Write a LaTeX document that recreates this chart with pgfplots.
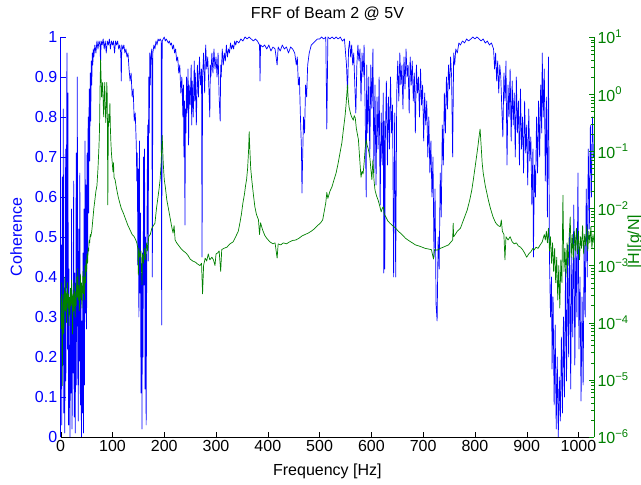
\documentclass[border=0pt]{standalone}
\usepackage{fontspec}
\setmainfont{Liberation Sans}
\usepackage{pgfplots}
\pgfplotsset{compat=1.18}
\definecolor{mblue}{rgb}{0,0,1}
\definecolor{mgreen}{rgb}{0,0.5,0}
\pgfplotsset{
  common/.style={
    scale only axis, width=533.3pt, height=400pt, at={(0,0)}, anchor=south west,
    xmin=0, xmax=1030,
    tick label style={font=\fontsize{16}{19}\selectfont},
    label style={font=\fontsize{16}{19}\selectfont},
    title style={font=\fontsize{16}{19}\selectfont},
    /pgf/number format/assume math mode=true,
    /pgf/number format/1000 sep={},
    scaled ticks=false,
    tick align=inside,
    major tick length=5pt,
    minor tick length=3pt,
  }
}
\begin{document}
\begin{tikzpicture}
\useasboundingbox (-60.7pt,-48pt) rectangle (580.3pt,437pt);
\begin{axis}[common,
  axis y line*=left, axis x line*=bottom,
  ymin=0, ymax=1,
  ytick={0,0.1,0.2,0.3,0.4,0.5,0.6,0.7,0.8,0.9,1},
  yticklabels={0,0.1,0.2,0.3,0.4,0.5,0.6,0.7,0.8,0.9,1},
  xtick={0,100,200,300,400,500,600,700,800,900,1000},
  y axis line style={mblue,-},
  x axis line style={black,-},
  ytick style={mblue},
  xtick style={black},
  yticklabel style={mblue},
  ylabel={Coherence},
  ylabel style={mblue, at={(axis description cs:-0.0726,0.5)}, anchor=base},
  xlabel={Frequency [Hz]},
  xlabel style={at={(axis description cs:0.5,0)}, anchor=base, yshift=-38pt},
  title={FRF of Beam 2 @ 5V},
  title style={at={(axis description cs:0.5,1)}, anchor=base, yshift=12pt},
]
\addplot[mblue, line width=0.7pt, line join=round, mark=none] table[row sep=\\] {
x y\\
0 0.12\\ 1 0.48\\ 2 0.03\\ 3 0.65\\ 4 0.18\\ 5 0.82\\ 6 0.06\\ 7 0.33\\ 8 0.01\\ 9 0.72\\
10 0.14\\ 11 0.58\\ 12 0.96\\ 13 0.22\\ 14 0.86\\ 15 0.03\\ 16 0.42\\ 17 0.09\\ 18 0.00\\ 19 0.36\\
20 0.11\\ 21 0.57\\ 22 0.02\\ 23 0.31\\ 24 0.16\\ 25 0.64\\ 26 0.05\\ 27 0.41\\ 28 0.01\\ 29 0.27\\
30 0.71\\ 31 0.13\\ 32 0.90\\ 33 0.31\\ 34 0.04\\ 35 0.52\\ 36 0.19\\ 37 0.66\\ 38 0.08\\ 39 0.36\\
40 0.00\\ 41 0.29\\ 42 0.06\\ 43 0.46\\ 44 0.01\\ 45 0.57\\ 46 0.13\\ 47 0.74\\ 48 0.31\\ 49 0.63\\
50 0.27\\ 51 0.71\\ 52 0.44\\ 53 0.80\\ 54 0.56\\ 55 0.87\\ 56 0.69\\ 57 0.91\\ 58 0.79\\ 59 0.94\\
60 0.88\\ 61 0.96\\ 62 0.93\\ 63 0.97\\ 64 0.95\\ 66 0.98\\ 68 0.96\\ 70 0.99\\ 72 0.97\\ 74 0.99\\
76 0.98\\ 77 0.93\\ 78 0.99\\ 80 0.98\\ 82 0.995\\ 84 0.97\\ 86 0.99\\ 88 0.96\\ 90 0.99\\ 92 0.98\\
94 0.995\\ 96 0.97\\ 98 0.99\\ 100 0.98\\ 102 0.99\\ 104 0.96\\ 106 0.99\\ 108 0.98\\ 110 0.99\\ 112 0.97\\
114 0.98\\ 116 0.96\\ 117 0.89\\ 118 0.98\\ 120 0.97\\ 122 0.98\\ 124 0.96\\ 126 0.97\\ 128 0.95\\ 130 0.96\\
132 0.92\\ 134 0.89\\ 136 0.91\\ 138 0.85\\ 140 0.87\\ 142 0.79\\ 144 0.81\\ 146 0.73\\ 147 0.64\\ 148 0.71\\
149 0.43\\ 150 0.67\\ 151 0.30\\ 152 0.74\\ 153 0.36\\ 154 0.56\\ 155 0.11\\ 156 0.41\\ 157 0.02\\ 158 0.46\\
159 0.20\\ 160 0.70\\ 161 0.38\\ 162 0.72\\ 163 0.12\\ 164 0.50\\ 165 0.03\\ 166 0.36\\ 167 0.61\\ 168 0.78\\
169 0.44\\ 170 0.90\\ 171 0.76\\ 172 0.96\\ 173 0.88\\ 174 0.95\\ 176 0.97\\ 177 0.40\\ 178 0.96\\ 180 0.98\\
182 0.97\\ 184 0.99\\ 186 0.98\\ 188 0.995\\ 190 0.99\\ 192 0.995\\ 194 0.99\\ 195 0.28\\ 196 0.99\\ 198 0.995\\
200 1.0\\ 202 0.99\\ 204 0.995\\ 206 0.99\\ 208 0.985\\ 210 0.99\\ 212 0.98\\ 214 0.985\\ 216 0.97\\ 218 0.98\\
220 0.96\\ 222 0.97\\ 224 0.94\\ 226 0.95\\ 228 0.91\\ 230 0.93\\ 232 0.86\\ 234 0.90\\ 236 0.80\\ 237 0.88\\
238 0.70\\ 239 0.84\\ 240 0.53\\ 241 0.82\\ 242 0.76\\ 243 0.90\\ 244 0.81\\ 246 0.92\\ 247 0.73\\ 248 0.88\\
250 0.83\\ 252 0.93\\ 253 0.78\\ 254 0.89\\ 256 0.80\\ 258 0.94\\ 259 0.84\\ 260 0.91\\ 262 0.78\\ 264 0.93\\
266 0.85\\ 268 0.95\\ 270 0.88\\ 272 0.92\\ 273 0.45\\ 274 0.90\\ 276 0.96\\ 278 0.86\\ 280 0.98\\ 282 0.92\\
284 0.95\\ 286 0.88\\ 288 0.80\\ 289 0.93\\ 290 0.90\\ 292 0.96\\ 294 0.91\\ 296 0.97\\ 298 0.92\\ 300 0.95\\
302 0.90\\ 304 0.96\\ 306 0.85\\ 308 0.79\\ 309 0.93\\ 310 0.90\\ 312 0.97\\ 314 0.93\\ 316 0.96\\ 318 0.94\\
320 0.98\\ 322 0.95\\ 324 0.97\\ 326 0.96\\ 328 0.985\\ 330 0.97\\ 332 0.98\\ 334 0.97\\ 336 0.99\\ 338 0.98\\
340 0.99\\ 344 0.985\\ 348 0.995\\ 352 0.99\\ 356 1.0\\ 360 0.995\\ 364 1.0\\ 368 0.995\\ 372 0.99\\ 376 0.995\\
380 0.99\\ 384 0.98\\ 385 0.89\\ 386 0.98\\ 390 0.975\\ 394 0.98\\ 398 0.97\\ 402 0.98\\ 406 0.965\\ 410 0.975\\
414 0.97\\ 418 0.93\\ 420 0.975\\ 424 0.965\\ 428 0.98\\ 432 0.97\\ 436 0.975\\ 440 0.96\\ 444 0.975\\ 448 0.97\\
452 0.96\\ 455 0.93\\ 457 0.95\\ 459 0.88\\ 461 0.90\\ 463 0.80\\ 465 0.72\\ 466 0.61\\ 467 0.68\\ 469 0.80\\
471 0.76\\ 473 0.88\\ 475 0.85\\ 477 0.93\\ 480 0.96\\ 484 0.98\\ 488 0.985\\ 492 0.99\\ 496 0.995\\ 500 0.995\\
504 1.0\\ 508 0.995\\ 512 1.0\\ 514 0.77\\ 516 1.0\\ 520 0.995\\ 524 1.0\\ 528 0.995\\ 532 1.0\\ 536 0.995\\
540 1.0\\ 544 0.99\\ 548 0.995\\ 552 0.93\\ 554 0.86\\ 556 0.97\\ 558 0.99\\ 560 0.95\\ 562 0.98\\ 564 0.93\\
566 0.96\\ 568 0.88\\ 570 0.81\\ 572 0.93\\ 574 0.98\\ 576 0.94\\ 578 0.97\\ 580 0.84\\ 582 0.96\\ 584 0.90\\
586 0.98\\ 588 0.82\\ 590 0.60\\ 591 0.93\\ 593 0.76\\ 595 0.90\\ 597 0.70\\ 599 0.93\\ 601 0.82\\ 603 0.97\\
605 0.66\\ 607 0.88\\ 609 0.63\\ 611 0.85\\ 613 0.72\\ 615 0.90\\ 617 0.58\\ 619 0.81\\ 621 0.68\\ 623 0.86\\
624 0.41\\ 625 0.79\\ 626 0.42\\ 627 0.74\\ 629 0.89\\ 631 0.68\\ 633 0.85\\ 635 0.72\\ 637 0.90\\ 639 0.76\\
641 0.83\\ 643 0.40\\ 645 0.81\\ 647 0.40\\ 649 0.86\\ 651 0.94\\ 653 0.84\\ 655 0.96\\ 657 0.88\\ 659 0.93\\
661 0.82\\ 663 0.95\\ 665 0.87\\ 667 0.97\\ 669 0.90\\ 671 0.93\\ 673 0.81\\ 675 0.95\\ 677 0.88\\ 679 0.94\\
681 0.84\\ 683 0.91\\ 685 0.76\\ 687 0.93\\ 689 0.86\\ 691 0.90\\ 693 0.80\\ 695 0.92\\ 697 0.83\\ 699 0.88\\
701 0.74\\ 703 0.86\\ 705 0.78\\ 707 0.84\\ 709 0.70\\ 711 0.80\\ 713 0.66\\ 715 0.74\\ 717 0.60\\ 719 0.70\\
721 0.45\\ 723 0.62\\ 725 0.33\\ 727 0.29\\ 729 0.50\\ 731 0.42\\ 733 0.66\\ 735 0.55\\ 737 0.78\\ 739 0.68\\
741 0.86\\ 743 0.76\\ 745 0.90\\ 747 0.82\\ 749 0.93\\ 751 0.87\\ 753 0.95\\ 755 0.90\\ 757 0.70\\ 759 0.96\\
761 0.93\\ 763 0.97\\ 766 0.96\\ 769 0.985\\ 772 0.98\\ 776 0.99\\ 780 0.985\\ 784 0.995\\ 788 0.99\\ 792 0.995\\
796 1.0\\ 800 0.995\\ 804 1.0\\ 808 0.995\\ 812 0.99\\ 816 0.995\\ 820 0.985\\ 824 0.99\\ 828 0.98\\ 832 0.985\\
836 0.97\\ 838 0.92\\ 840 0.96\\ 842 0.89\\ 844 0.94\\ 846 0.86\\ 848 0.93\\ 850 0.90\\ 852 0.82\\ 854 0.75\\
856 0.91\\ 858 0.84\\ 860 0.94\\ 862 0.68\\ 864 0.88\\ 866 0.80\\ 868 0.92\\ 870 0.74\\ 872 0.89\\ 874 0.78\\
876 0.86\\ 878 0.70\\ 880 0.90\\ 882 0.76\\ 884 0.84\\ 886 0.68\\ 888 0.87\\ 890 0.72\\ 892 0.80\\ 894 0.66\\
896 0.84\\ 898 0.71\\ 900 0.78\\ 902 0.63\\ 904 0.82\\ 906 0.69\\ 908 0.75\\ 910 0.58\\ 912 0.72\\ 913 0.45\\
915 0.68\\ 917 0.60\\ 919 0.80\\ 921 0.66\\ 923 0.84\\ 925 0.70\\ 927 0.88\\ 929 0.76\\ 930 0.96\\ 932 0.80\\
934 0.92\\ 936 0.64\\ 938 0.85\\ 940 0.55\\ 942 0.95\\ 944 0.45\\ 946 0.30\\ 948 0.40\\ 949 0.17\\ 951 0.35\\
953 0.08\\ 955 0.28\\ 957 0.02\\ 959 0.20\\ 961 0.00\\ 963 0.15\\ 965 0.04\\ 967 0.25\\ 969 0.06\\ 971 0.30\\
973 0.10\\ 975 0.42\\ 977 0.14\\ 979 0.48\\ 981 0.20\\ 983 0.52\\ 985 0.12\\ 987 0.45\\ 989 0.25\\ 991 0.58\\
993 0.18\\ 995 0.50\\ 997 0.30\\ 999 0.66\\ 1001 0.22\\ 1003 0.40\\ 1005 0.09\\ 1007 0.35\\ 1009 0.13\\ 1011 0.48\\
1013 0.30\\ 1015 0.62\\ 1017 0.40\\ 1019 0.72\\ 1021 0.52\\ 1023 0.78\\ 1025 0.60\\ 1027 0.80\\ 1029 0.70\\
};
\end{axis}
\begin{axis}[common,
  ymode=log, ymin=1e-6, ymax=10,
  axis y line*=right, axis x line=none,
  ytick={1e-6,1e-5,1e-4,1e-3,1e-2,1e-1,1,10},
  yticklabels={10\textsuperscript{−6},10\textsuperscript{−5},10\textsuperscript{−4},10\textsuperscript{−3},10\textsuperscript{−2},10\textsuperscript{−1},10\textsuperscript{0},10\textsuperscript{1}},
  minor ytick={2e-6,3e-6,4e-6,5e-6,6e-6,7e-6,8e-6,9e-6,2e-5,3e-5,4e-5,5e-5,6e-5,7e-5,8e-5,9e-5,2e-4,3e-4,4e-4,5e-4,6e-4,7e-4,8e-4,9e-4,2e-3,3e-3,4e-3,5e-3,6e-3,7e-3,8e-3,9e-3,2e-2,3e-2,4e-2,5e-2,6e-2,7e-2,8e-2,9e-2,0.2,0.3,0.4,0.5,0.6,0.7,0.8,0.9,2,3,4,5,6,7,8,9},
  y axis line style={mgreen,-},
  ytick style={mgreen},
  yticklabel style={mgreen},
  ylabel={|H|[g/N]},
  ylabel style={mgreen, at={(axis description cs:1.0845,0.489)}, anchor=base},
]
\addplot[mgreen, line width=0.7pt, line join=round, mark=none] table[row sep=\\] {
x y\\
0 2.8e-4\\ 1 7.9e-5\\ 2 5.0e-4\\ 3 7.9e-6\\ 4 1.26e-4\\ 5 3.2e-4\\ 6 6.3e-5\\ 7 2.5e-4\\ 8 6.3e-4\\ 9 1.6e-4\\
10 3.5e-4\\ 11 1.0e-4\\ 12 2.5e-4\\ 13 5.0e-4\\ 14 1.8e-4\\ 15 3.2e-4\\ 16 8.9e-5\\ 17 2.8e-4\\ 18 1.4e-4\\ 19 4.0e-4\\
20 2.0e-4\\ 21 5.6e-4\\ 22 2.2e-4\\ 23 6.3e-5\\ 24 3.2e-4\\ 25 1.6e-4\\ 26 5.0e-4\\ 27 2.5e-4\\ 28 1.26e-4\\ 29 3.5e-4\\
30 2.0e-4\\ 31 6.3e-4\\ 32 2.8e-4\\ 33 8.9e-4\\ 34 2.5e-4\\ 35 4.5e-4\\ 36 1.6e-4\\ 37 4.0e-4\\ 38 7.1e-4\\ 39 2.5e-4\\
40 5.0e-4\\ 41 1.8e-4\\ 42 3.5e-4\\ 43 7.9e-4\\ 44 3.2e-4\\ 45 6.3e-4\\ 46 2.5e-4\\ 47 1.0e-3\\ 48 5.0e-4\\ 49 1.26e-3\\
50 7.9e-4\\ 51 1.6e-3\\ 52 1.1e-3\\ 53 2.0e-3\\ 54 1.8e-3\\ 55 2.8e-3\\ 56 2.5e-3\\ 57 3.5e-3\\ 58 3.2e-3\\ 60 4.0e-3\\
62 6.3e-3\\ 64 1.0e-2\\ 66 1.4e-2\\ 68 2.0e-2\\ 70 2.5e-2\\ 72 5.0e-2\\ 74 0.126\\ 75 0.25\\ 76 1.26\\ 77 4.0\\
78 2.0\\ 79 0.89\\ 80 1.26\\ 81 1.6\\ 82 0.79\\ 83 0.4\\ 84 0.79\\ 85 1.6\\ 86 0.63\\ 87 0.32\\
88 0.5\\ 89 1.6\\ 90 0.89\\ 91 0.0115\\ 92 0.25\\ 93 0.45\\ 94 0.32\\ 95 0.69\\ 96 0.25\\ 97 0.14\\
98 0.093\\ 100 0.056\\ 101 0.044\\ 102 0.063\\ 103 0.035\\ 105 0.032\\ 108 0.022\\ 111 0.016\\ 114 0.0126\\ 117 0.01\\
121 8.3e-3\\ 125 6.6e-3\\ 130 5.0e-3\\ 134 4.2e-3\\ 138 3.5e-3\\ 142 3.2e-3\\ 145 2.8e-3\\ 147 2.5e-3\\ 149 2.0e-3\\ 150 6.8e-4\\
151 2.0e-3\\ 153 1.4e-3\\ 155 1.8e-3\\ 157 4.6e-4\\ 158 1.6e-3\\ 160 1.1e-3\\ 162 2.0e-3\\ 164 1.26e-3\\ 166 2.5e-3\\ 168 1.8e-3\\
170 3.2e-3\\ 173 3.5e-3\\ 176 4.5e-3\\ 179 5.0e-3\\ 182 5.5e-3\\ 185 1.0e-2\\ 188 1.6e-2\\ 190 2.2e-2\\ 192 3.2e-2\\ 194 6.3e-2\\
195 0.11\\ 196 0.19\\ 197 0.11\\ 198 0.063\\ 200 0.032\\ 202 0.024\\ 205 0.014\\ 208 0.01\\ 211 7.1e-3\\ 214 5.0e-3\\
217 3.7e-3\\ 219 5.0e-3\\ 221 2.8e-3\\ 224 2.5e-3\\ 227 2.3e-3\\ 232 2.0e-3\\ 237 1.8e-3\\ 242 1.66e-3\\ 246 1.5e-3\\ 250 1.3e-3\\
255 1.2e-3\\ 260 1.15e-3\\ 264 1.07e-3\\ 269 1.0e-3\\ 272 1.1e-3\\ 274 3.2e-4\\ 276 1.0e-3\\ 279 1.35e-3\\ 282 1.2e-3\\ 285 1.6e-3\\
288 1.26e-3\\ 292 1.4e-3\\ 295 1.26e-3\\ 298 1.0e-3\\ 300 1.6e-3\\ 303 1.66e-3\\ 306 1.8e-3\\ 309 7.9e-4\\ 311 1.9e-3\\ 315 2.0e-3\\
321 2.1e-3\\ 327 2.4e-3\\ 333 2.6e-3\\ 338 3.2e-3\\ 343 4.0e-3\\ 346 5.5e-3\\ 349 7.9e-3\\ 352 1.26e-2\\ 355 1.8e-2\\ 357 2.5e-2\\
359 3.2e-2\\ 361 5.0e-2\\ 363 0.11\\ 364 0.22\\ 365 0.126\\ 367 0.05\\ 369 0.032\\ 372 0.018\\ 375 0.0107\\ 378 7.9e-3\\
382 6.3e-3\\ 384 3.5e-3\\ 386 5.6e-3\\ 390 4.2e-3\\ 394 3.4e-3\\ 398 3.0e-3\\ 404 2.6e-3\\ 410 2.4e-3\\ 414 2.5e-3\\ 418 1.35e-3\\
420 2.4e-3\\ 425 2.3e-3\\ 430 2.5e-3\\ 436 2.4e-3\\ 442 2.6e-3\\ 448 2.75e-3\\ 454 2.8e-3\\ 460 3.0e-3\\ 466 3.3e-3\\ 472 3.5e-3\\
478 3.7e-3\\ 484 4.0e-3\\ 490 4.4e-3\\ 496 5.0e-3\\ 502 5.6e-3\\ 506 6.3e-3\\ 510 1.0e-2\\ 512 1.26e-2\\ 514 1.9e-2\\ 516 1.5e-2\\
520 2.0e-2\\ 524 2.4e-2\\ 528 3.2e-2\\ 532 4.2e-2\\ 536 6.3e-2\\ 540 0.1\\ 543 0.14\\ 546 0.24\\ 549 0.4\\ 551 0.63\\
553 1.12\\ 554 1.45\\ 555 0.89\\ 557 0.59\\ 560 0.45\\ 562 0.4\\ 565 0.35\\ 567 0.42\\ 569 0.38\\ 571 0.25\\
573 0.2\\ 575 0.16\\ 578 0.063\\ 580 0.035\\ 582 0.045\\ 584 0.04\\ 586 0.063\\ 588 0.11\\ 590 0.16\\ 592 0.126\\
594 0.11\\ 597 0.079\\ 599 0.05\\ 601 0.032\\ 603 0.071\\ 605 0.032\\ 607 0.021\\ 610 0.0166\\ 613 0.014\\ 616 0.0112\\
619 8.7e-3\\ 621 0.01\\ 623 0.0107\\ 625 7.9e-3\\ 628 7.1e-3\\ 632 6.0e-3\\ 636 5.5e-3\\ 641 5.0e-3\\ 646 4.6e-3\\ 652 4.0e-3\\
659 3.5e-3\\ 666 3.0e-3\\ 672 2.75e-3\\ 679 2.5e-3\\ 685 2.3e-3\\ 692 2.2e-3\\ 698 2.1e-3\\ 704 2.0e-3\\ 710 1.95e-3\\ 716 1.9e-3\\
720 1.3e-3\\ 722 1.9e-3\\ 727 1.86e-3\\ 733 2.0e-3\\ 739 2.1e-3\\ 744 2.2e-3\\ 749 2.3e-3\\ 754 2.6e-3\\ 757 2.8e-3\\ 758 5.5e-3\\
759 3.2e-3\\ 762 3.5e-3\\ 766 4.0e-3\\ 772 4.5e-3\\ 778 6.3e-3\\ 785 9.3e-3\\ 790 0.014\\ 794 0.021\\ 797 0.032\\ 800 0.05\\
803 0.079\\ 806 0.126\\ 808 0.18\\ 810 0.245\\ 812 0.126\\ 814 0.063\\ 816 0.042\\ 820 0.025\\ 826 0.014\\ 830 0.01\\
835 7.1e-3\\ 840 5.6e-3\\ 845 5.0e-3\\ 849 4.8e-3\\ 851 6.3e-3\\ 853 4.0e-3\\ 856 3.5e-3\\ 858 1.26e-3\\ 860 3.2e-3\\ 864 2.8e-3\\
868 3.2e-3\\ 872 2.6e-3\\ 876 2.4e-3\\ 880 2.5e-3\\ 884 2.2e-3\\ 888 2.1e-3\\ 892 1.9e-3\\ 896 1.66e-3\\ 900 1.4e-3\\ 904 1.6e-3\\
908 1.74e-3\\ 912 2.0e-3\\ 914 1.86e-3\\ 918 2.1e-3\\ 922 2.0e-3\\ 926 2.3e-3\\ 930 2.6e-3\\ 934 3.5e-3\\ 936 2.8e-3\\ 938 4.0e-3\\
940 2.5e-3\\ 942 4.5e-3\\ 944 1.8e-3\\ 946 3.2e-3\\ 948 1.1e-3\\ 950 2.5e-3\\ 952 7.9e-4\\ 954 2.0e-3\\ 956 5.0e-4\\ 958 1.4e-3\\
960 2.5e-4\\ 962 1.0e-3\\ 964 1.8e-4\\ 966 1.26e-3\\ 968 5.0e-4\\ 970 0.017\\ 972 7.9e-4\\ 974 2.0e-3\\ 976 6.3e-4\\ 978 2.5e-3\\
980 1.0e-3\\ 982 3.2e-3\\ 984 7.1e-3\\ 986 1.4e-3\\ 988 3.5e-3\\ 990 1.26e-3\\ 992 4.0e-3\\ 994 1.8e-3\\ 996 4.5e-3\\ 998 1.6e-3\\
1000 4.0e-3\\ 1002 1.26e-3\\ 1004 3.2e-3\\ 1006 2.0e-3\\ 1008 5.0e-3\\ 1010 1.6e-3\\ 1012 3.5e-3\\ 1014 2.2e-3\\ 1016 5.0e-3\\ 1018 1.8e-3\\
1020 4.0e-3\\ 1022 2.5e-3\\ 1024 4.8e-3\\ 1026 2.0e-3\\ 1028 3.5e-3\\ 1030 2.5e-3\\
};
\end{axis}
\end{tikzpicture}
\end{document}
